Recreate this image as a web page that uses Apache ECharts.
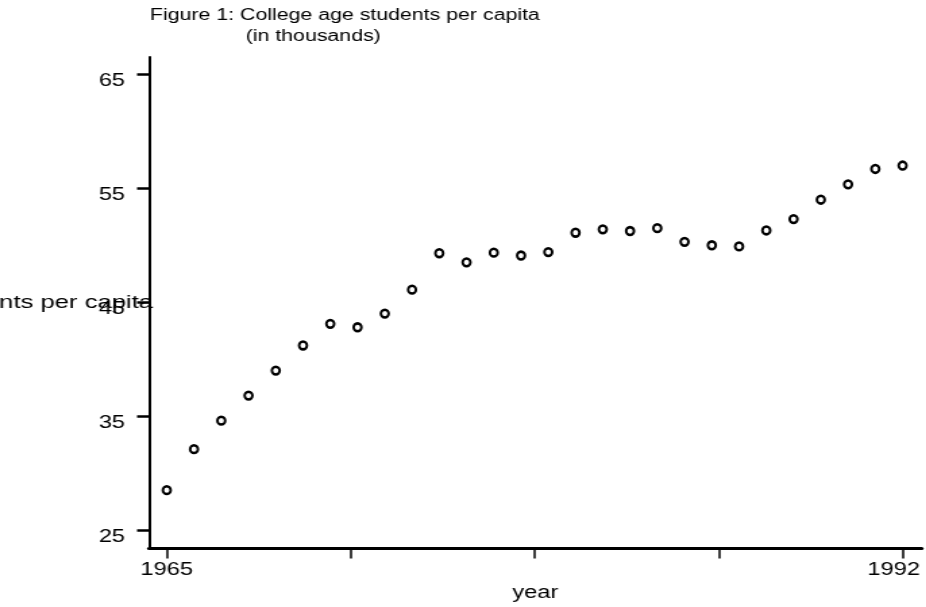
<!DOCTYPE html>
<html>
<head>
<meta charset="utf-8">
<script src="https://cdn.jsdelivr.net/npm/echarts@6/dist/echarts.min.js"></script>
<style>
  html, body { margin: 0; padding: 0; background: #fff; overflow: hidden; }
  /* the original figure is stretched sideways, so the chart is drawn narrow and scaled */
  #main { width: 686px; height: 607px; transform: scaleX(1.35); transform-origin: 0 0; }
</style>
</head>
<body>
<div id="main"></div>
<script>
var years = [1965,1966,1967,1968,1969,1970,1971,1972,1973,1974,1975,1976,1977,1978,
             1979,1980,1981,1982,1983,1984,1985,1986,1987,1988,1989,1990,1991,1992];
var students = [28.5,32.1,34.6,36.8,39.0,41.2,43.1,42.8,44.0,46.1,49.3,48.5,49.35,49.1,
                49.4,51.1,51.4,51.25,51.5,50.3,50.0,49.9,51.3,52.3,54.0,55.35,56.7,57.0];
var yTicks = [25, 35, 45, 55, 65];
var xTicks = [1965, 1971.75, 1978.5, 1985.25, 1992];
var xLabels = [1965, 1992];

var font = "'Liberation Sans', Arial, sans-serif";

window.onload = function() {
	var chart = echarts.init(document.getElementById('main'));
	var option = {
		animation: false,
		backgroundColor: '#fff',
		graphic: [{
			type: 'text',
			left: 111,
			top: 7.5,
			style: { text: 'Figure 1: College age students per capita', font: '15.8px ' + font, fill: '#000' }
		}, {
			type: 'text',
			left: 182,
			top: 28.5,
			style: { text: '(in thousands)', font: '15.8px ' + font, fill: '#000' }
		}],
		grid: { left: 110.4, right: 3.3, top: 57, bottom: 59, containLabel: false, outerBoundsMode: 'none' },
		xAxis: {
			type: 'value',
			min: 1964.35,
			max: 1992.7,
			name: 'year',
			nameLocation: 'middle',
			nameGap: 36,
			nameMoveOverlap: false,
			nameTextStyle: { fontFamily: font, fontSize: 17.5, color: '#000' },
			axisLine: { show: true, lineStyle: { color: '#000', width: 3 } },
			axisTick: { show: true, length: 10.5, customValues: xTicks, lineStyle: { color: '#000', width: 1.5 } },
			axisLabel: {
				customValues: xLabels,
				margin: 13,
				fontFamily: font,
				fontSize: 17.5,
				color: '#000',
				formatter: function(v) {
					return v === 1992 ? '{r|' + v + '}' : '' + v;
				},
				rich: { r: { fontFamily: font, fontSize: 17.5, color: '#000', padding: [0, 13, 0, 0] } }
			},
			splitLine: { show: false }
		},
		yAxis: {
			type: 'value',
			min: 23.42,
			max: 66.53,
			name: 'students per capita',
			nameLocation: 'middle',
			nameRotate: 0,
			nameGap: -3,
			nameMoveOverlap: false,
			nameTextStyle: { fontFamily: font, fontSize: 19, color: '#000' },
			axisLine: { show: true, lineStyle: { color: '#000', width: 2 } },
			axisTick: { show: true, length: 8.9, customValues: yTicks, lineStyle: { color: '#000', width: 2.5 } },
			axisLabel: {
				customValues: yTicks,
				margin: 17.8,
				fontFamily: font,
				fontSize: 17.5,
				color: '#000',
				verticalAlign: 'top',
				lineHeight: 14
			},
			splitLine: { show: false }
		},
		series: [{
			type: 'scatter',
			symbol: 'circle',
			symbolSize: [5.8, 7.8],
			itemStyle: { color: '#fff', borderColor: '#000', borderWidth: 2.2, opacity: 1 },
			data: years.map(function(y, i) { return [y, students[i]]; })
		}]
	};
	chart.setOption(option);
};
</script>
</body>
</html>
